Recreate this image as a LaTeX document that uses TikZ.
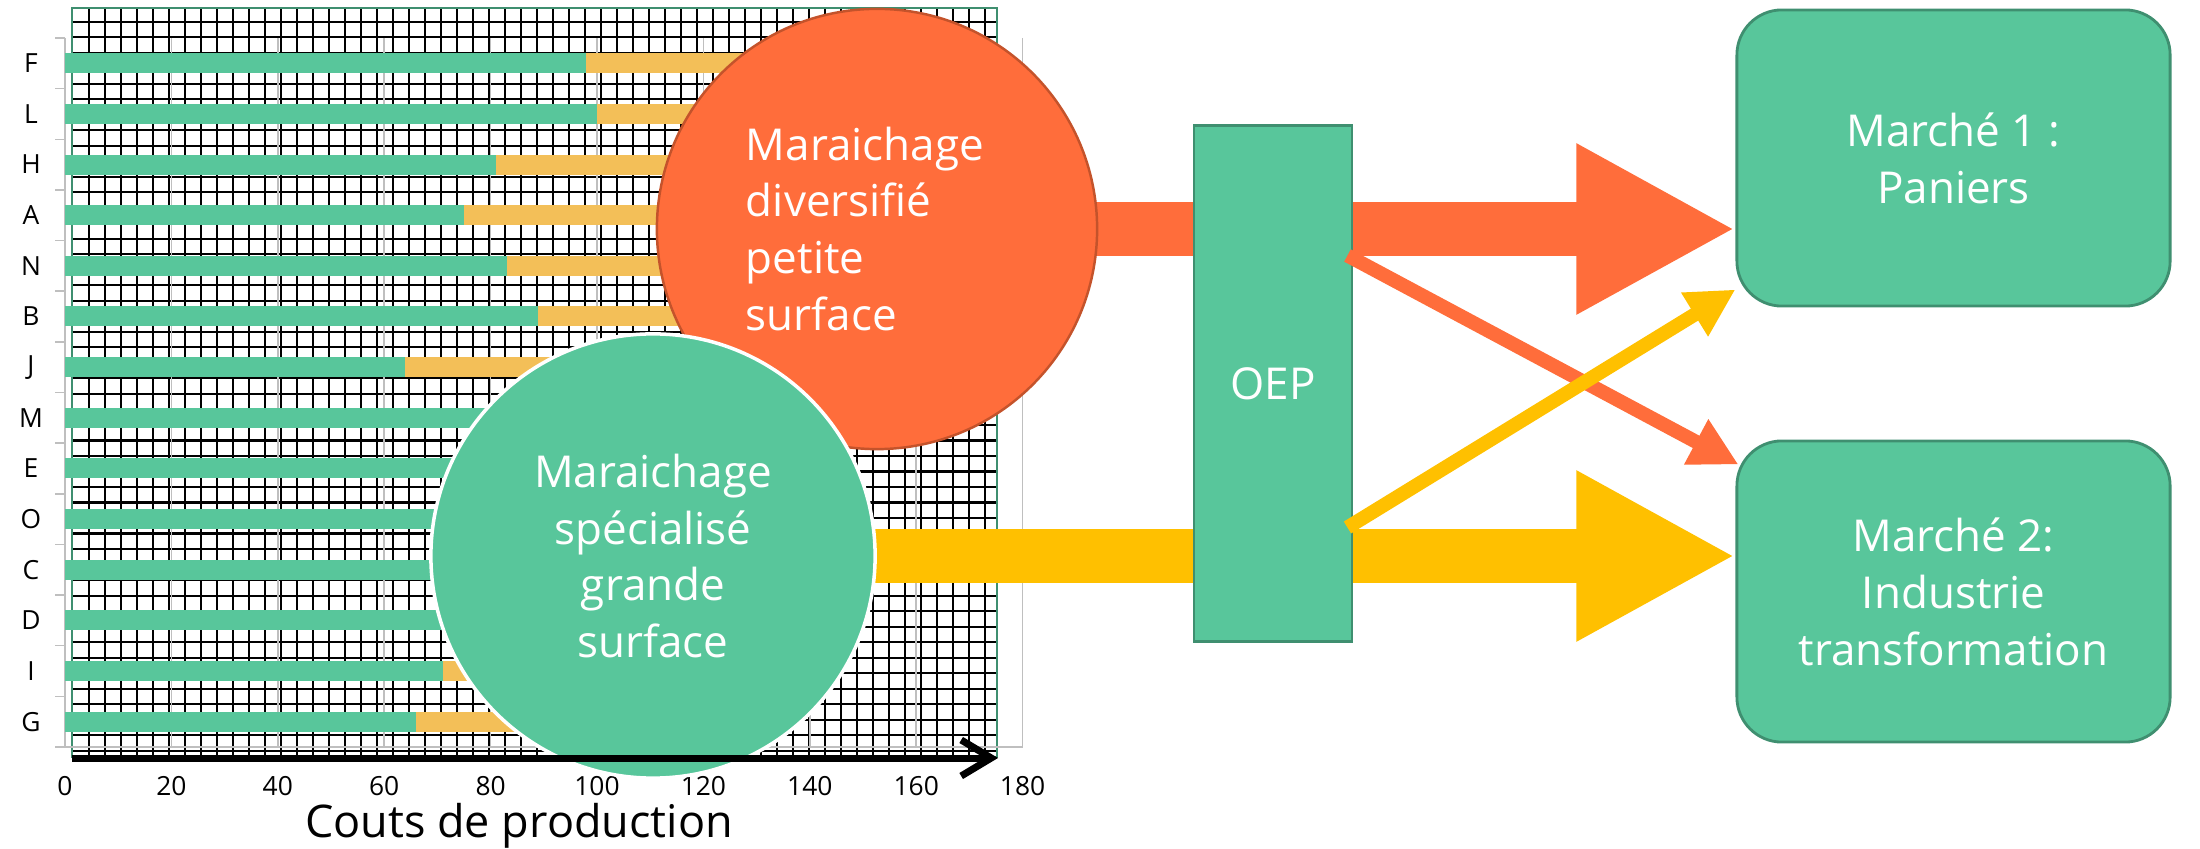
\documentclass[tikz,border=0pt]{standalone}
\usepackage{fontspec}
\setmainfont{Open Sans}
\usetikzlibrary{arrows.meta,calc}
\definecolor{vert}{HTML}{58C69B}
\definecolor{vertfonce}{HTML}{3F8F70}
\definecolor{orangevif}{HTML}{FF6D3B}
\definecolor{orangebord}{HTML}{C4532B}
\definecolor{jaune}{HTML}{FFC000}
\definecolor{barreorange}{HTML}{F3BF58}
\definecolor{grisaxe}{HTML}{BFBFBF}
\pgfdeclarelayer{chart}
\pgfdeclarelayer{flows}
\pgfdeclarelayer{front}
\pgfsetlayers{chart,flows,main,front}

\begin{document}
\begin{tikzpicture}[x=0.01cm,y=-0.01cm,
    txt/.style={font=\fontsize{12.5}{16.2}\selectfont,text=white},
    hatch/.style={black,line width=0.02cm},
    axe/.style={grisaxe,line width=0.015cm},
    bigflow/.style={line width=0.53cm,-{Triangle[length=1.59cm,width=1.59cm]}},
    thinflow/.style={line width=0.14cm,-{Triangle[length=0.48cm,width=0.48cm]}},
    market/.style={rectangle,rounded corners=0.45cm,draw=vertfonce,line width=0.8pt,
      fill=vert,minimum width=4.33cm,txt,align=center}]

        \useasboundingbox (0,0) rectangle (2200,849);

        \begin{pgfonlayer}{chart}
          \begin{scope}
            \clip (72,8) rectangle (997,757);
            \foreach \x in {89,105,...,997} \draw[hatch] (\x,8) -- (\x,757);
            \foreach \y in {22,37.5,...,757} \draw[hatch] (72,\y) -- (997,\y);
          \end{scope}
          \draw[vertfonce,line width=0.7pt] (72,8) rectangle (997,757);

          \foreach \v in {20,40,...,180} \draw[axe] ({65+5.32*\v},38) -- ({65+5.32*\v},747);
          \draw[axe] (65,38) -- (65,747) -- (1023,747);
          \foreach \k in {0,...,14} \draw[axe] (55,{38+50.64*\k}) -- (65,{38+50.64*\k});

          \begin{scope}[every node/.style={font=\fontsize{7.5}{8}\selectfont}]
            \foreach \lab/\g/\t [count=\k from 0] in
                {F/98/140,L/100/130,H/81/125,A/75/120,N/83/120,B/89/125,J/64/110,
                 M/85/100,E/80/95,O/78/95,C/76/95,D/75/95,I/71/85,G/66/90} {
              \fill[barreorange] ({65+5.32*\g},{53.3+50.64*\k}) rectangle ({65+5.32*\t},{73.3+50.64*\k});
              \fill[vert] (65,{53.3+50.64*\k}) rectangle ({65+5.32*\g},{73.3+50.64*\k});
              \node (cat\lab) at (31,{63.3+50.64*\k}) {\lab};
            }
            \foreach \v in {0,20,...,180}
              \node (tick\v) at ({65+5.32*\v},786) {\v};
          \end{scope}
          \node[font=\fontsize{12.8}{15}\selectfont,anchor=base] (titre) at (519,837) {Couts de production};
        \end{pgfonlayer}

        \node[circle,fill=orangevif,draw=orangebord,line width=0.7pt,minimum size=4.4cm,
          inner sep=0pt,txt,text width=2.62cm,align=left] (petite) at (877,229) {Maraichage\\diversifié\\petite\\surface};
        \node[circle,fill=vert,draw=white,line width=1pt,minimum size=4.44cm,
          inner sep=0pt,txt,align=center] (grande) at (653,556) {Maraichage\\spécialisé\\grande\\surface};
        \node[rectangle,fill=vert,draw=vertfonce,line width=0.8pt,minimum width=1.58cm,
          minimum height=5.15cm,txt] (oep) at (1273,383.5) {OEP};
        \node[market,minimum height=2.96cm] (m1) at (1953.5,158) {Marché 1 :\\Paniers};
        \node[market,minimum height=3.01cm] (m2) at (1953.5,591.5) {Marché 2:\\Industrie\\transformation};

        \begin{pgfonlayer}{flows}
          \draw[bigflow,orangevif] (petite.center) -- (petite.center -| m1.west);
          \draw[bigflow,jaune] (grande.center) -- (grande.center -| m2.west);
        \end{pgfonlayer}

        \draw[thinflow,orangevif] ($(oep.east)+(-6,-128)$) -- ($(m2.north west)+(3,25)$);
        \draw[thinflow,jaune] ($(oep.east)+(-6,144)$) -- ($(m1.south west)+(0,-18)$);

        \begin{pgfonlayer}{front}
          \coordinate (ax0) at (72,758);
          \coordinate (ax1) at (998,758);
          \draw[line width=0.07cm,-{Straight Barb[length=0.3cm,width=0.36cm]}] (ax0) -- (ax1);
        \end{pgfonlayer}

      \end{tikzpicture}
\end{document}
